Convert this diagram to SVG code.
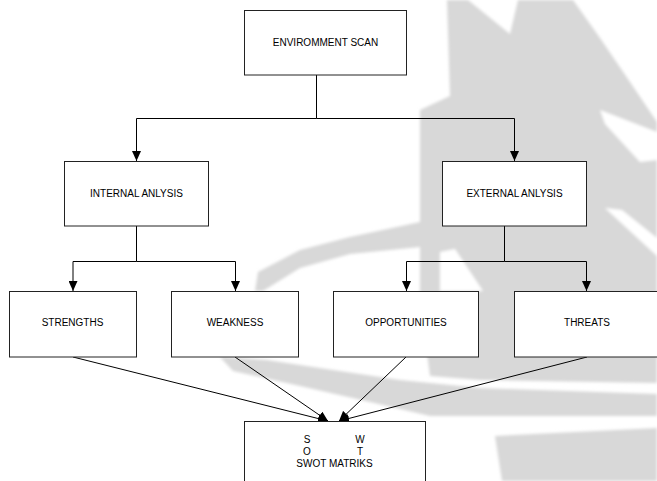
<svg xmlns="http://www.w3.org/2000/svg" width="657" height="481" viewBox="0 0 657 481">
<defs>
<style>
.wm{fill:#d8d8d8;stroke:none}
.wh{fill:#ffffff;stroke:none}
.box{fill:#ffffff;stroke:#222;stroke-width:1}
.lbl{font-family:"Liberation Sans",Arial,sans-serif;font-size:10px;fill:#000;text-anchor:middle}
.ln{fill:none;stroke:#000;stroke-width:1}
</style>
<filter id="soft" x="-5%" y="-5%" width="110%" height="110%">
<feGaussianBlur stdDeviation="1.6"/>
</filter>
<marker id="ah" markerUnits="userSpaceOnUse" markerWidth="10" markerHeight="9" refX="10" refY="4.5" orient="auto" viewBox="0 0 10 9">
<path d="M0,0 L10,4.5 L0,9 z" fill="#000"/>
</marker>
</defs>
<rect width="657" height="481" fill="#ffffff"/>
<g id="watermark" filter="url(#soft)">
<polygon class="wm" points="447,0 468,0 510,34 518,0 573,0 600,38 630,82 657,122 657,383 480,380 430,376 420,300 420,248 420,222 420,110 450,96"/>
<polygon class="wm" points="258,272 300,250 350,237 420,222 440,224 440,250 420,247 350,254 300,268 263,291 255,291"/>
<polygon class="wm" points="220,357 267,360 333,370 400,380 480,388 657,394 657,416 430,416 370,402 300,386 233,371"/>
<polygon class="wm" points="495,436 657,428 657,481 502,481"/>
<polygon class="wh" points="440,252 455,249 483,291 440,291"/>
<polygon class="wh" points="600,110 657,132 657,160 640,162 605,124"/>
<polygon class="wh" points="605,208 622,210 657,238 657,256"/>
</g>
<g id="connectors">
<path class="ln" d="M316.5,75 V118.5"/>
<path class="ln" d="M316.5,118.5 H136.5 V161" marker-end="url(#ah)"/>
<path class="ln" d="M316.5,118.5 H514.5 V161" marker-end="url(#ah)"/>
<path class="ln" d="M136.5,226 V261.5"/>
<path class="ln" d="M136.5,261.5 H73 V291" marker-end="url(#ah)"/>
<path class="ln" d="M136.5,261.5 H235.5 V291" marker-end="url(#ah)"/>
<path class="ln" d="M504.5,226 V261.5"/>
<path class="ln" d="M504.5,261.5 H406.5 V291" marker-end="url(#ah)"/>
<path class="ln" d="M504.5,261.5 H586.5 V291" marker-end="url(#ah)"/>
<path class="ln" d="M73,357 L328,421" marker-end="url(#ah)"/>
<path class="ln" d="M235,357 L328,421" marker-end="url(#ah)"/>
<path class="ln" d="M406,357 L339,421" marker-end="url(#ah)"/>
<path class="ln" d="M587,357 L339,421" marker-end="url(#ah)"/>
</g>
<g id="env">
<rect class="box" x="244.5" y="10.5" width="162" height="64.5"/>
<text class="lbl" x="325.5" y="45.5">ENVIROMMENT SCAN</text>
</g>
<g id="internal">
<rect class="box" x="64.5" y="161.5" width="144" height="64.5"/>
<text class="lbl" x="136.5" y="196.5">INTERNAL ANLYSIS</text>
</g>
<g id="external">
<rect class="box" x="442.5" y="161.5" width="144" height="64.5"/>
<text class="lbl" x="514.5" y="196.5">EXTERNAL ANLYSIS</text>
</g>
<g id="strengths">
<rect class="box" x="9.5" y="291.5" width="127" height="65.5"/>
<text class="lbl" x="72.5" y="325.5">STRENGTHS</text>
</g>
<g id="weakness">
<rect class="box" x="171.5" y="291.5" width="127" height="65.5"/>
<text class="lbl" x="235" y="325.5">WEAKNESS</text>
</g>
<g id="opportunities">
<rect class="box" x="333.5" y="291.5" width="145" height="65.5"/>
<text class="lbl" x="406" y="325.5">OPPORTUNITIES</text>
</g>
<g id="threats">
<rect class="box" x="514.5" y="291.5" width="145" height="65.5"/>
<text class="lbl" x="587" y="325.5">THREATS</text>
</g>
<g id="swot">
<rect class="box" x="244.5" y="421.5" width="181" height="70"/>
<text class="lbl" x="307" y="442.5">S</text>
<text class="lbl" x="360" y="442.5">W</text>
<text class="lbl" x="307" y="455">O</text>
<text class="lbl" x="360" y="455">T</text>
<text class="lbl" x="334.5" y="467">SWOT MATRIKS</text>
</g>
</svg>
